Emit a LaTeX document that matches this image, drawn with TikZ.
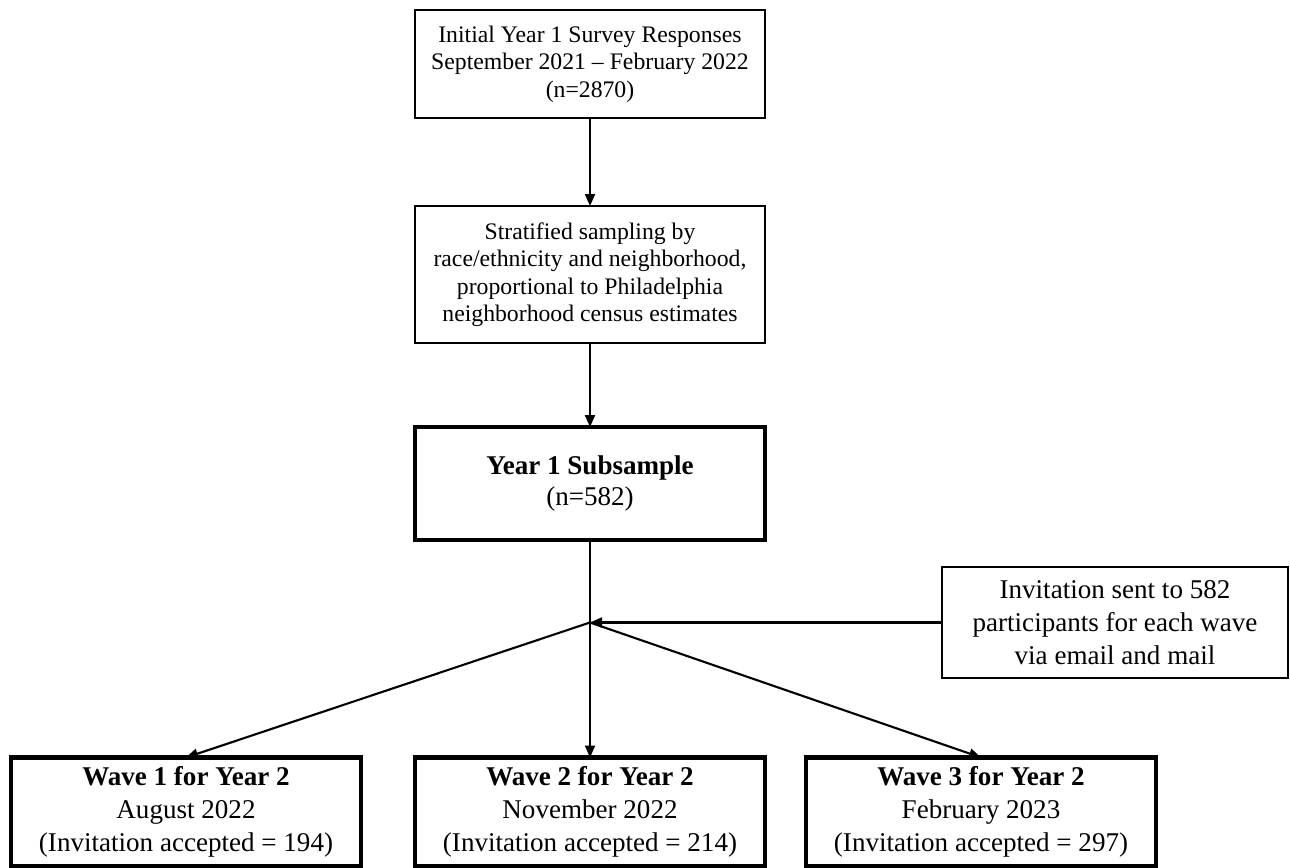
\documentclass[tikz,border=0pt]{standalone}
\usepackage{fontspec}
\setmainfont{Liberation Serif}
\usepackage{tikz}
\usetikzlibrary{arrows.meta}

\begin{document}
\begin{tikzpicture}[box/.style={draw, line width=1.1pt, align=center, minimum width=7cm, outer sep=0pt, font=\fontsize{13.5}{15.6}\selectfont},
  thickbox/.style={draw, line width=2.8pt, align=center, minimum width=7cm, outer sep=0pt, font=\fontsize{15.4}{18.6}\selectfont},
  arr/.style={line width=1.2pt, -{Triangle[length=2.4mm,width=2mm]}}]
\useasboundingbox (0,0) rectangle (25.8,-17.34);

\node[box, minimum height=2.16cm] (survey) at (11.8,-1.28) {Initial Year 1 Survey Responses\\September 2021 -- February 2022\\(n=2870)};
\node[box, minimum height=2.74cm] (strat) at (11.8,-5.49) {Stratified sampling by\\race/ethnicity and neighborhood,\\proportional to Philadelphia\\neighborhood census estimates};
\node[thickbox, minimum height=2.26cm, font=\fontsize{15.4}{17.2}\selectfont] (sub) at (11.8,-9.67) {\textbf{Year 1 Subsample}\\(n=582)};

\node[box, minimum width=6.92cm, minimum height=2.22cm, font=\fontsize{15.4}{18.6}\selectfont] (invite) at (22.3,-12.45) {Invitation sent to 582\\participants for each wave\\via email and mail};
\coordinate (split) at (sub.south |- invite.west);

\node[thickbox, minimum height=2.18cm] (wave1) at (3.72,-16.24) {\textbf{Wave 1 for Year 2}\\August 2022\\(Invitation accepted = 194)};
\node[thickbox, minimum height=2.18cm] (wave2) at (11.8,-16.24) {\textbf{Wave 2 for Year 2}\\November 2022\\(Invitation accepted = 214)};
\node[thickbox, minimum height=2.18cm] (wave3) at (19.62,-16.24) {\textbf{Wave 3 for Year 2}\\February 2023\\(Invitation accepted = 297)};

\draw[arr] (survey) -- (strat);
\draw[arr] (strat) -- (sub);
\draw[arr] (sub) -- (wave2);
\draw[arr] (invite.west) -- (split);
\draw[arr] (split) -- (wave1.north);
\draw[arr] (split) -- (wave3.north);
\end{tikzpicture}
\end{document}
